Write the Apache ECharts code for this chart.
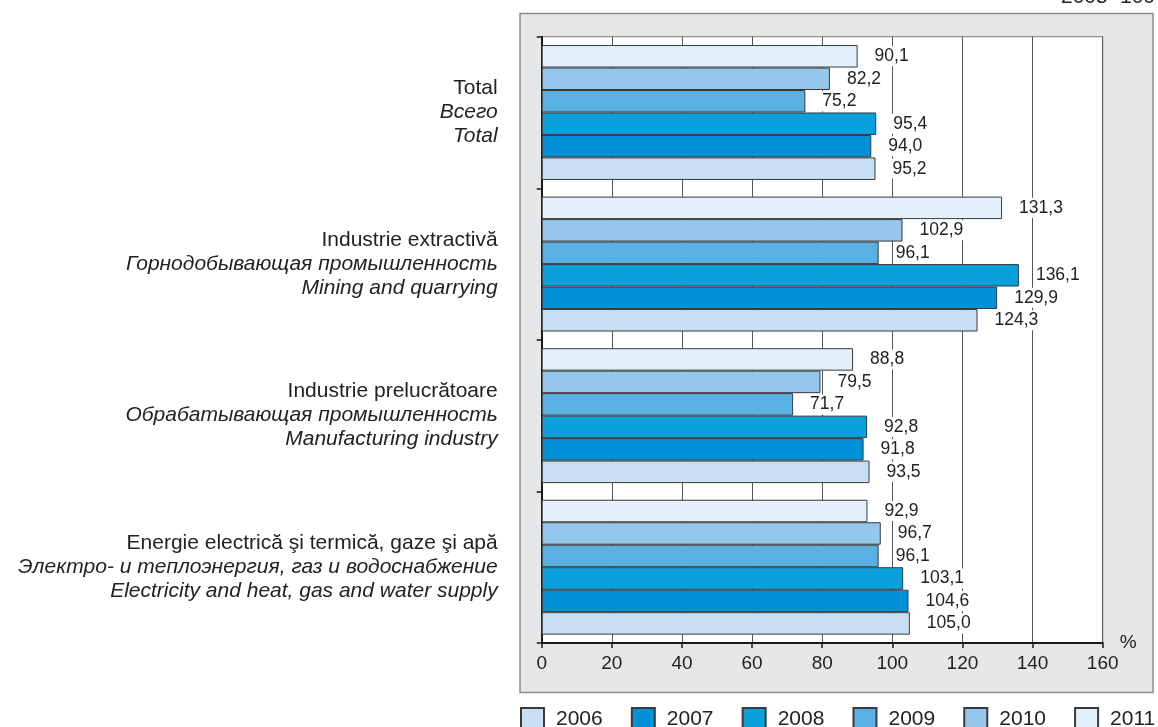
<!DOCTYPE html>
<html>
<head>
<meta charset="utf-8">
<script src="https://cdn.jsdelivr.net/npm/echarts@6/dist/echarts.min.js"></script>
<style>
html,body{margin:0;padding:0;background:#fff;}
#chart{width:1158px;height:727px;}
</style>
</head>
<body>
<div id="chart"></div>
<script>
const categoriesRo = ['Total', 'Industrie extractivă', 'Industrie prelucrătoare', 'Energie electrică şi termică, gaze şi apă'];
const categoriesRu = ['Всего', 'Горнодобывающая промышленность', 'Обрабатывающая промышленность', 'Электро- и теплоэнергия, газ и водоснабжение'];
const categoriesEn = ['Total', 'Mining and quarrying', 'Manufacturing industry', 'Electricity and heat, gas and water supply'];
const years = ['2006', '2007', '2008', '2009', '2010', '2011'];
const values2006 = [95.2, 124.3, 93.5, 105.0];
const values2007 = [94.0, 129.9, 91.8, 104.6];
const values2008 = [95.4, 136.1, 92.8, 103.1];
const values2009 = [75.2, 96.1, 71.7, 96.1];
const values2010 = [82.2, 102.9, 79.5, 96.7];
const values2011 = [90.1, 131.3, 88.8, 92.9];
const xTicks = [0, 20, 40, 60, 80, 100, 120, 140, 160];
const baseNote = '2005=100';
const unitName = '%';

const seriesValues = [values2006, values2007, values2008, values2009, values2010, values2011];
const colors = ['#c8dff3', '#0090d5', '#0aa0dc', '#5aafe3', '#95c6eb', '#e3eff9'];
const FONT = "'Liberation Sans', Arial, Helvetica, sans-serif";

// draw order: 2011 first so that it sits at the top of each group
const order = [5, 4, 3, 2, 1, 0];

const chart = echarts.init(document.getElementById('chart'));
const option = {
  animation: false,
  textStyle: { fontFamily: FONT },
  graphic: [
    { type: 'rect', z: -10, shape: { x: 520, y: 13.5, width: 633, height: 679 },
      style: { fill: '#e6e7e8', stroke: '#8c8c8c', lineWidth: 1.5 } },
    { type: 'text', x: 1155, y: -3, style: { text: baseNote, fontSize: 21, fontFamily: FONT, fill: '#222', align: 'right', verticalAlign: 'middle' } }
  ],
  grid: { left: 541.7, right: 55.3, top: 36.7, bottom: 84, show: true, backgroundColor: '#fff', borderColor: '#777', borderWidth: 1, containLabel: false },
  legend: {
    data: years, left: 520, top: 707, width: 660, padding: 0, itemWidth: 23, itemHeight: 22, itemGap: 28.1, icon: 'rect',
    textStyle: { fontSize: 21, color: '#222', fontFamily: FONT, padding: [0, 0, 0, 7] }
  },
  xAxis: {
    type: 'value', min: xTicks[0], max: xTicks[xTicks.length - 1], interval: xTicks[1] - xTicks[0],
    name: unitName, nameLocation: 'end', nameGap: 17,
    nameTextStyle: { fontSize: 19, color: '#222', fontFamily: FONT, verticalAlign: 'middle' },
    axisLine: { show: true, lineStyle: { color: '#1a1a1a', width: 2 } },
    axisTick: { show: true, length: 5, lineStyle: { color: '#1a1a1a', width: 1.5 } },
    axisLabel: { fontSize: 19, color: '#222', margin: 11, fontFamily: FONT },
    splitLine: { show: true, lineStyle: { color: '#555', width: 1 } }
  },
  yAxis: {
    type: 'category', inverse: true, data: categoriesRo,
    axisLine: { show: true, lineStyle: { color: '#1a1a1a', width: 2 } },
    axisTick: { show: true, length: 5, lineStyle: { color: '#1a1a1a', width: 1.5 } },
    axisLabel: {
      margin: 44, fontFamily: FONT,
      formatter: function (v, i) {
        return '{a|' + categoriesRo[i] + '}\n{b|' + categoriesRu[i] + '}\n{b|' + categoriesEn[i] + '}';
      },
      rich: {
        a: { fontSize: 21, lineHeight: 24, color: '#222', fontFamily: FONT, align: 'right' },
        b: { fontSize: 21, lineHeight: 24, color: '#222', fontFamily: FONT, fontStyle: 'italic', align: 'right' }
      }
    },
    splitLine: { show: false }
  },
  series: order.map(function (k) {
    return {
      name: years[k], type: 'bar', data: seriesValues[k],
      barGap: '0%', barCategoryGap: '11%',
      itemStyle: { color: colors[k], borderColor: '#3a3a3a', borderWidth: 1 },
      label: {
        show: true, position: 'right', distance: 15, fontSize: 17.5, color: '#222', fontFamily: FONT,
        backgroundColor: '#fff', padding: [1, 2],
        formatter: function (p) { return p.value.toFixed(1).replace('.', ','); }
      }
    };
  })
};
chart.setOption(option);
</script>
</body>
</html>
